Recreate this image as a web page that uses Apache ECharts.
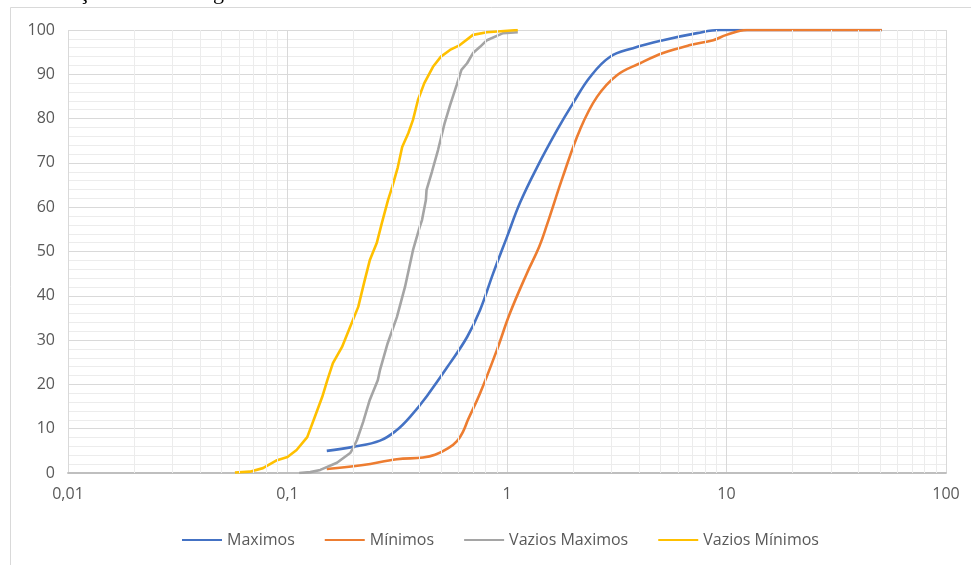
<!DOCTYPE html>
<html><head><meta charset="utf-8">
<script src="https://cdn.jsdelivr.net/npm/echarts@6/dist/echarts.min.js"></script>
<style>html,body{margin:0;padding:0;background:#fff}#c{width:971px;height:565px}</style>
</head><body><div id="c"></div>
<script>
// ---- data ----
const seriesNames = ['Maximos', 'Mínimos', 'Vazios Maximos', 'Vazios Mínimos'];
const seriesColors = ['#4472C4', '#ED7D31', '#A5A5A5', '#FFC000'];

const maximosX = [0.151, 0.199, 0.264, 0.315, 0.361, 0.432, 0.55, 0.658, 0.754, 0.864, 1.0, 1.146, 1.37, 1.69, 2.0, 2.39, 2.94, 3.75, 5.14, 7.35, 9.3, 20, 51];
const maximosY = [5.0, 5.9, 7.3, 9.7, 12.6, 17.4, 24.8, 30.7, 36.8, 45, 53.3, 61, 69, 77.4, 83.5, 89.4, 93.9, 95.9, 97.7, 99.3, 100, 100, 100];

const minimosX = [0.151, 0.221, 0.315, 0.414, 0.47, 0.54, 0.592, 0.63, 0.664, 0.754, 0.90, 1.03, 1.23, 1.40, 1.52, 1.80, 2.15, 2.57, 3.17, 4.04, 5.14, 6.83, 8.7, 10.0, 12.4, 51];
const minimosY = [0.9, 1.8, 3.1, 3.5, 4.1, 5.6, 7.2, 9.3, 12, 18, 27.8, 36, 45, 51, 56, 67, 77.5, 84.9, 89.8, 92.5, 94.8, 96.6, 97.7, 98.9, 100, 100];

const vaziosMaxX = [0.113, 0.127, 0.141, 0.168, 0.193, 0.199, 0.207, 0.221, 0.237, 0.258, 0.264, 0.286, 0.315, 0.343, 0.373, 0.40, 0.41, 0.427, 0.43, 0.455, 0.485, 0.52, 0.55, 0.59, 0.62, 0.658, 0.70, 0.754, 0.81, 0.96, 1.12];
const vaziosMaxY = [0, 0.2, 0.7, 2.3, 4.5, 5.6, 7.4, 11.5, 16.5, 21, 23.3, 29.3, 35.2, 42, 50.3, 55.5, 57.1, 61.6, 63.9, 68, 72.9, 79, 83, 87.6, 91, 92.5, 94.8, 96.2, 97.7, 99.3, 99.5];

const vaziosMinX = [0.0576, 0.0673, 0.0773, 0.0896, 0.10, 0.110, 0.123, 0.133, 0.144, 0.152, 0.161, 0.177, 0.193, 0.210, 0.225, 0.237, 0.255, 0.269, 0.287, 0.30, 0.318, 0.333, 0.355, 0.373, 0.393, 0.42, 0.46, 0.50, 0.55, 0.61, 0.70, 0.81, 1.12];
const vaziosMinY = [0.1, 0.3, 1.1, 2.9, 3.6, 5.2, 8.1, 12.6, 17.2, 21, 24.8, 28.4, 33, 37.5, 43.6, 48, 51.9, 56.4, 61.6, 64.6, 69, 73.6, 76.7, 79.7, 84.2, 88, 91.7, 94, 95.5, 96.6, 98.9, 99.5, 100];

const xTickLabels = ['0,01', '0,1', '1', '10', '100'];
const xDecades = [0.01, 0.1, 1, 10];
const minorMultipliers = [2, 3, 4, 5, 6, 7, 8, 9];
const captionText = 'Figura 5 – Distribuição das curvas granulométricas dos vazios.';

// ---- build ----
function zip(xs, ys) { return xs.map((x, i) => [x, ys[i]]); }
const allData = [zip(maximosX, maximosY), zip(minimosX, minimosY), zip(vaziosMaxX, vaziosMaxY), zip(vaziosMinX, vaziosMinY)];
const smoothness = [0.4, 0.4, false, false];

const minorLines = [];
xDecades.forEach(d => minorMultipliers.forEach(m => minorLines.push({ xAxis: +(d * m).toPrecision(3) })));

const FONT = 'Open Sans';
const series = allData.map((d, i) => ({
  name: seriesNames[i],
  type: 'line',
  data: d,
  symbol: 'none',
  smooth: smoothness[i],
  lineStyle: { color: seriesColors[i], width: 2.6 },
  itemStyle: { color: seriesColors[i] },
  z: 3
}));
series.unshift({
  name: 'minor',
  type: 'line',
  data: [],
  silent: true,
  z: 1,
  markLine: {
    silent: true,
    symbol: ['none', 'none'],
    label: { show: false },
    lineStyle: { color: '#ececec', width: 1, type: 'solid' },
    emphasis: { disabled: true },
    animation: false,
    data: minorLines
  }
});

const chart = echarts.init(document.getElementById('c'), null, { renderer: 'canvas' });
chart.setOption({
  animation: false,
  backgroundColor: '#ffffff',
  graphic: [
    { type: 'rect', shape: { x: 10.5, y: 7.5, width: 1000, height: 600 }, style: { fill: 'none', stroke: '#d9d9d9', lineWidth: 1 }, silent: true },
    { type: 'text', x: -95, y: 4, style: { text: captionText, font: '22px "Liberation Serif"', fill: '#000', verticalAlign: 'bottom' }, silent: true }
  ],
  grid: { left: 68, right: 25, top: 30, bottom: 92, containLabel: false },
  legend: {
    data: seriesNames,
    top: 527,
    left: 177,
    itemWidth: 40,
    itemHeight: 14,
    itemGap: 30,
    icon: 'path://M0,6 L40,6 L40,8 L0,8 Z',
    textStyle: { color: '#595959', fontSize: 16, fontFamily: FONT }
  },
  xAxis: {
    type: 'log',
    logBase: 10,
    min: 0.01,
    max: 100,
    axisLine: { show: true, onZero: false, lineStyle: { color: '#bfbfbf', width: 1.8 } },
    axisTick: { show: false },
    splitLine: { show: true, lineStyle: { color: '#d9d9d9', width: 1 } },
    axisLabel: {
      color: '#595959', fontSize: 16, fontFamily: FONT, margin: 13,
      formatter: v => xTickLabels[Math.round(Math.log10(v)) + 2]
    }
  },
  yAxis: {
    type: 'value',
    min: 0,
    max: 100,
    interval: 10,
    axisLine: { show: false },
    axisTick: { show: false },
    splitLine: { show: true, lineStyle: { color: '#d9d9d9', width: 1 } },
    minorTick: { show: false, splitNumber: 5 },
    minorSplitLine: { show: true, lineStyle: { color: '#ececec', width: 1 } },
    axisLabel: { color: '#595959', fontSize: 16, fontFamily: FONT, margin: 13 }
  },
  series: series
});
</script></body></html>
